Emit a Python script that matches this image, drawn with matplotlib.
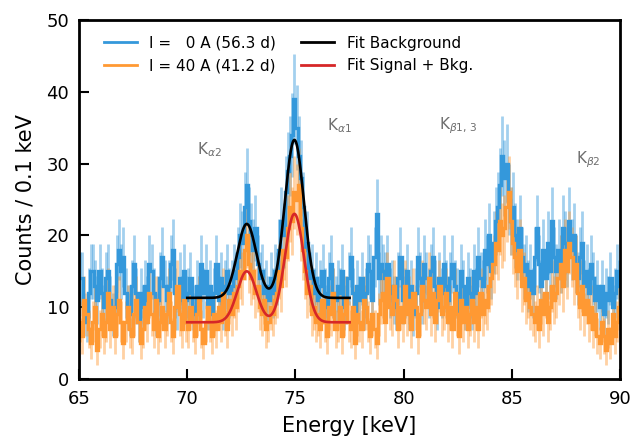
import numpy as np
import matplotlib
matplotlib.use("Agg")
import matplotlib.pyplot as plt
from matplotlib.lines import Line2D

# bins: 0.1 keV from 65 to 90
bin_lo = 65.0
bin_hi = 90.0
bin_width = 0.1

counts_0A = [
    14, 14, 9, 8, 12, 15, 15, 13, 11, 15,
    12, 10, 14, 15, 11, 9, 10, 16, 18, 15,
    17, 12, 10, 9, 13, 16, 12, 8, 12, 10,
    13, 11, 16, 15, 12, 9, 11, 14, 17, 13,
    11, 13, 16, 18, 12, 10, 14, 11, 15, 11,
    12, 14, 10, 9, 13, 11, 16, 12, 15, 10,
    13, 9, 12, 16, 11, 14, 10, 13, 15, 12,
    13, 15, 14, 17, 20, 19, 24, 27, 22, 20,
    18, 21, 16, 14, 15, 12, 13, 11, 14, 12,
    15, 14, 18, 22, 20, 26, 29, 31, 34, 39,
    35, 31, 28, 24, 18, 19, 14, 15, 12, 14,
    11, 13, 15, 12, 10, 14, 16, 12, 11, 13,
    12, 15, 10, 11, 14, 17, 12, 9, 13, 11,
    14, 10, 12, 16, 15, 11, 17, 23, 14, 16,
    15, 14, 16, 12, 13, 11, 10, 14, 17, 11,
    12, 15, 10, 13, 9, 12, 17, 14, 11, 16,
    14, 12, 15, 17, 13, 10, 14, 12, 16, 13,
    11, 14, 16, 13, 12, 9, 15, 13, 10, 14,
    12, 10, 15, 12, 17, 14, 13, 18, 16, 20,
    15, 19, 22, 24, 27, 31, 28, 30, 25, 22,
    24, 20, 18, 21, 17, 15, 16, 13, 15, 12,
    17, 21, 16, 13, 18, 14, 19, 15, 22, 17,
    15, 18, 16, 21, 19, 17, 22, 18, 20, 16,
    14, 17, 19, 13, 15, 12, 16, 14, 11, 13,
    10, 13, 9, 12, 11, 14, 10, 12, 15, 13,
]

counts_40A = [
    8, 6, 11, 9, 7, 5, 8, 10, 4, 7,
    9, 6, 8, 12, 7, 10, 6, 9, 11, 8,
    5, 8, 10, 7, 6, 9, 11, 8, 5, 7,
    10, 8, 12, 9, 7, 11, 6, 8, 10, 7,
    9, 12, 8, 6, 10, 13, 9, 7, 11, 8,
    7, 10, 8, 6, 9, 11, 7, 5, 8, 10,
    8, 6, 9, 7, 10, 8, 12, 9, 7, 11,
    9, 12, 10, 13, 15, 14, 18, 20, 16, 14,
    15, 12, 13, 10, 9, 11, 7, 8, 10, 9,
    11, 12, 15, 13, 18, 17, 21, 24, 22, 26,
    25, 27, 21, 18, 15, 12, 13, 9, 10, 8,
    9, 7, 11, 8, 6, 10, 9, 12, 7, 8,
    10, 6, 9, 11, 8, 7, 10, 5, 9, 8,
    7, 11, 10, 8, 6, 9, 7, 5, 9, 11,
    12, 8, 14, 10, 9, 13, 11, 7, 10, 8,
    13, 9, 11, 7, 12, 10, 6, 9, 13, 11,
    10, 14, 9, 12, 8, 11, 13, 9, 10, 12,
    8, 10, 7, 12, 9, 6, 11, 8, 10, 7,
    9, 11, 8, 10, 7, 12, 9, 11, 10, 13,
    14, 16, 19, 18, 22, 20, 21, 24, 26, 22,
    19, 17, 15, 18, 13, 14, 11, 12, 10, 9,
    8, 10, 7, 11, 9, 12, 8, 10, 13, 11,
    12, 14, 16, 13, 18, 15, 19, 17, 14, 16,
    12, 10, 13, 9, 11, 8, 10, 7, 9, 6,
    5, 8, 6, 4, 7, 5, 9, 6, 8, 10,
]

# fit parameters: [baseline, amp_Ka2, mu_Ka2, amp_Ka1, mu_Ka1, sigma]
fit_range = (70.0, 77.5)
fit_bkg = [11.3, 10.3, 72.75, 22.0, 74.95, 0.44]
fit_sig = [7.9, 7.1, 72.75, 15.1, 74.95, 0.44]

labels = ["I =   0 A (56.3 d)", "I = 40 A (41.2 d)", "Fit Background", "Fit Signal + Bkg."]
line_names = [r"K$_{\alpha2}$", r"K$_{\alpha1}$", r"K$_{\beta1,\,3}$", r"K$_{\beta2}$"]
line_pos = [(70.45, 32.0), (76.45, 35.3), (81.65, 35.3), (87.95, 30.5)]

c_blue = "#3498db"
c_orange = "#ff9933"
c_black = "#000000"
c_red = "#d62728"

edges = np.arange(bin_lo, bin_hi + bin_width / 2, bin_width)
centers = 0.5 * (edges[:-1] + edges[1:])


def model(x, p):
    b, a2, m2, a1, m1, s = p
    return b + a2 * np.exp(-0.5 * ((x - m2) / s) ** 2) + a1 * np.exp(-0.5 * ((x - m1) / s) ** 2)


fig = plt.figure(figsize=(6.33, 4.40), dpi=100)
ax = fig.add_axes([0.1248, 0.1386, 0.855, 0.8159])

for counts, col in [(counts_0A, c_blue), (counts_40A, c_orange)]:
    y = np.array(counts, dtype=float)
    err = np.sqrt(y)
    ax.vlines(centers, y - err, y + err, color=col, alpha=0.45, lw=2.0, zorder=1)
    ax.stairs(y, edges, color=col, lw=2.4, zorder=2, baseline=None)

xf = np.linspace(fit_range[0], fit_range[1], 500)
ax.plot(xf, model(xf, fit_bkg), color=c_black, lw=1.9, zorder=5)
ax.plot(xf, model(xf, fit_sig), color=c_red, lw=1.9, zorder=5)

for name, (xp, yp) in zip(line_names, line_pos):
    ax.text(xp, yp, name, color="#6e6e6e", fontsize=11, ha="left", va="center")

handles = [Line2D([], [], color=c_blue, lw=2),
           Line2D([], [], color=c_orange, lw=2),
           Line2D([], [], color=c_black, lw=2),
           Line2D([], [], color=c_red, lw=2)]
ax.legend(handles, labels, ncol=2, loc="upper left", frameon=False, fontsize=11,
          bbox_to_anchor=(0.02, 0.995), handlelength=2.2, columnspacing=1.6)

ax.set_xlim(65, 90)
ax.set_ylim(0, 50)
ax.set_xticks([65, 70, 75, 80, 85, 90])
ax.set_yticks([0, 10, 20, 30, 40, 50])
ax.tick_params(direction="in", length=7, width=1.5, labelsize=13)
ax.tick_params(axis="x", pad=8)
ax.tick_params(axis="y", pad=7)
for sp in ax.spines.values():
    sp.set_linewidth(2)
ax.set_xlabel("Energy [keV]", fontsize=15, labelpad=6)
ax.set_ylabel("Counts / 0.1 keV", fontsize=15, labelpad=8)

fig.savefig("out.png", dpi=100)
